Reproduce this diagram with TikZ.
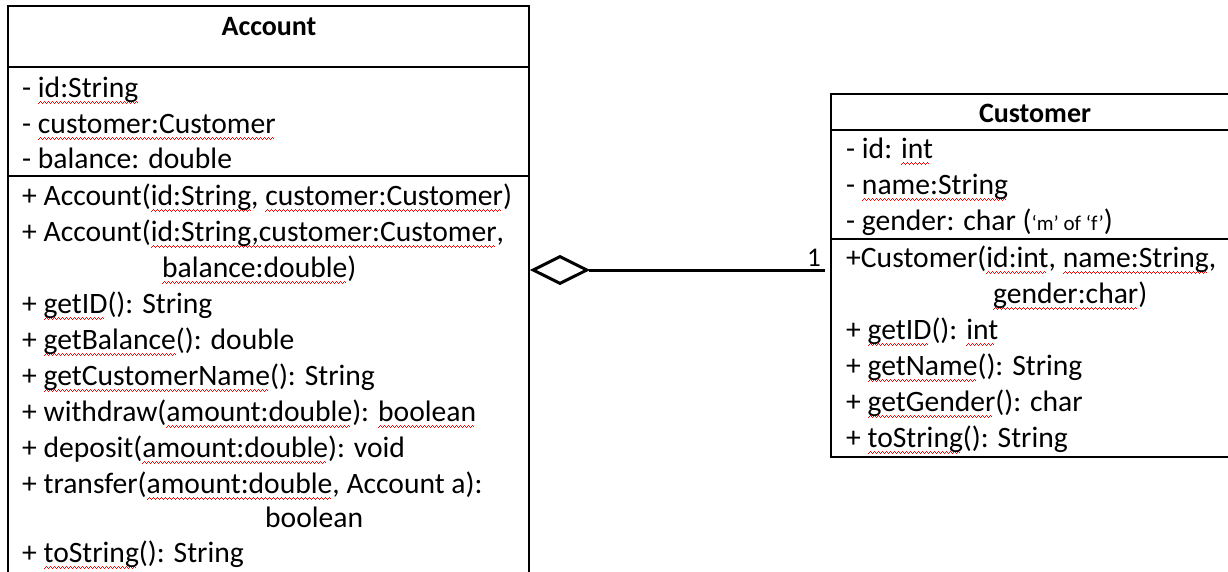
\documentclass[tikz,border=0pt]{standalone}
\usepackage{fontspec}
\setmainfont{Carlito}
\usepackage{tikz}
\usetikzlibrary{shapes.geometric}

\newcommand{\memberfont}{\fontsize{29.6}{36}\selectfont}
\newcommand{\titlefont}{\fontsize{28}{34}\selectfont\bfseries}
\newcommand{\multfont}{\fontsize{27}{30}\selectfont}
\newcommand{\quotefont}{\fontsize{21}{25}\selectfont}

% red spell-check wave under a word
\newcommand{\wavepiece}{\hbox{\rule[-7pt]{1pt}{1.4pt}\rule[-6pt]{1pt}{1.4pt}\rule[-5pt]{1pt}{1.4pt}\rule[-6pt]{1pt}{1.4pt}}}
\newcommand{\rw}[1]{\setbox0=\hbox{#1}\leavevmode\rlap{\color{red}\leaders\wavepiece\hskip\wd0}\box0}

\begin{document}
\begin{tikzpicture}[x=1pt, y=-1pt,
        box_style/.style={rectangle,draw=black,line width=1.3pt,anchor=north west,inner sep=0pt,outer sep=0pt},
        title_style/.style={anchor=base,inner sep=0pt,font=\titlefont},
        member_style/.style={anchor=base west,inner sep=0pt,font=\memberfont},
        agg_style/.style={diamond,draw=black,line width=3pt,fill=white,minimum width=55pt,minimum height=28pt,inner sep=0pt},
        link_style/.style={draw=black,line width=3pt}]

        \useasboundingbox (0,0) rectangle (1228,571);
        \clip (0,0) rectangle (1228,571);

        % Account class
        \node [box_style,minimum width=521pt,minimum height=61pt] (acc_head) at (8,6) {};
        \node [box_style,minimum width=521pt,minimum height=109pt] (acc_attr) at (8,67) {};
        \node [box_style,minimum width=521pt,minimum height=420pt] (acc_ops) at (8,176) {};

        \node [title_style] (acc_title) at (269,35) {Account};

        \node [member_style] (acc_a1) at (22,97) {- \rw{id:String}};
        \node [member_style] (acc_a2) at (22,133) {- \rw{customer:Customer}};
        \node [member_style] (acc_a3) at (22,168) {- balance: double};

        \node [member_style] (acc_m1) at (22,205) {+ Account(\rw{id:String}, \rw{customer:Customer})};
        \node [member_style] (acc_m2) at (22,241) {+ Account(\rw{id:String,customer:Customer},};
        \node [member_style] (acc_m2b) at (162,277) {\rw{balance:double})};
        \node [member_style] (acc_m3) at (22,313) {+ \rw{getID}(): String};
        \node [member_style] (acc_m4) at (22,349) {+ \rw{getBalance}(): double};
        \node [member_style] (acc_m5) at (22,385) {+ \rw{getCustomerName}(): String};
        \node [member_style] (acc_m6) at (22,421) {+ withdraw(\rw{amount:double}): \rw{boolean}};
        \node [member_style] (acc_m7) at (22,457) {+ deposit(\rw{amount:double}): void};
        \node [member_style] (acc_m8) at (22,493) {+ transfer(\rw{amount:double}, Account a):};
        \node [member_style] (acc_m8b) at (265,527) {boolean};
        \node [member_style] (acc_m9) at (22,562) {+ \rw{toString}(): String};

        % Customer class
        \node [box_style,minimum width=408pt,minimum height=36pt] (cust_head) at (831,94) {};
        \node [box_style,minimum width=408pt,minimum height=109pt] (cust_attr) at (831,130) {};
        \node [box_style,minimum width=408pt,minimum height=218pt] (cust_ops) at (831,239) {};

        \node [title_style] (cust_title) at (1035,122) {Customer};

        \node [member_style] (cust_a1) at (846,158) {- id: \rw{int}};
        \node [member_style] (cust_a2) at (846,194) {- \rw{name:String}};
        \node [member_style] (cust_a3) at (846,230) {- gender: char ({\quotefont ‘m’ of ‘f’})};

        \node [member_style] (cust_m1) at (846,267) {+Customer(\rw{id:int}, \rw{name:String},};
        \node [member_style] (cust_m1b) at (993,303) {\rw{gender:char})};
        \node [member_style] (cust_m2) at (846,339) {+ \rw{getID}(): \rw{int}};
        \node [member_style] (cust_m3) at (846,375) {+ \rw{getName}(): String};
        \node [member_style] (cust_m4) at (846,411) {+ \rw{getGender}(): char};
        \node [member_style] (cust_m5) at (846,447) {+ \rw{toString}(): String};

        % aggregation
        \node [agg_style] (agg) at (560,270) {};
        \coordinate (cust_end) at (825,270);
        \draw [link_style] (agg.east) -- (cust_end);
        \node [inner sep=0pt,anchor=base east,font=\multfont] (mult) at (821,266) {1};

\end{tikzpicture}
\end{document}
